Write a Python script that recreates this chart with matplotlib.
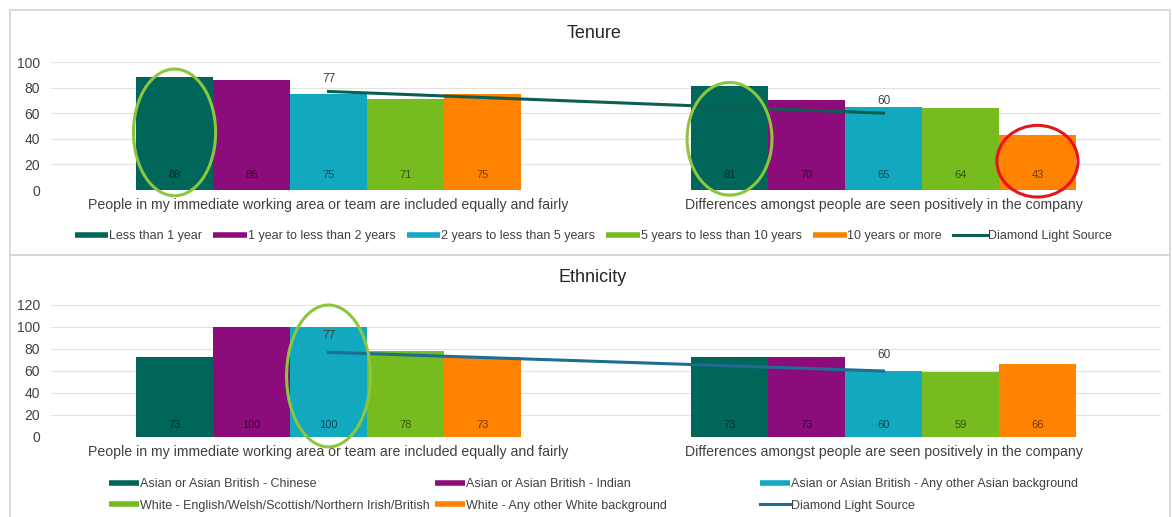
import numpy as np
import matplotlib
matplotlib.use("Agg")
import matplotlib.pyplot as plt
from matplotlib.patches import Ellipse, Rectangle
from matplotlib.lines import Line2D
from matplotlib.colors import to_rgb

plt.rcParams['font.family'] = ['Liberation Sans', 'DejaVu Sans']

categories = ["People in my immediate working area or team are included equally and fairly",
              "Differences amongst people are seen positively in the company"]

tenure_series = ["Less than 1 year", "1 year to less than 2 years", "2 years to less than 5 years",
                 "5 years to less than 10 years", "10 years or more"]
tenure_values = [[88, 81], [86, 70], [75, 65], [71, 64], [75, 43]]
tenure_dls = [77, 60]

eth_series = ["Asian or Asian British - Chinese", "Asian or Asian British - Indian",
              "Asian or Asian British - Any other Asian background",
              "White - English/Welsh/Scottish/Northern Irish/British",
              "White - Any other White background"]
eth_values = [[73, 73], [100, 73], [100, 60], [78, 59], [73, 66]]
eth_dls = [77, 60]

line_label = "Diamond Light Source"

colors = ["#00665a", "#8c0c7c", "#12a8c0", "#77bc1f", "#ff8200"]
line_color_top = "#0d5e50"
line_color_bot = "#1d6e93"

def darker(c, f=0.45):
    r, g, b = to_rgb(c)
    return (r * f, g * f, b * f)

W, H = 1172, 517
fig = plt.figure(figsize=(W / 100, H / 100), dpi=100)

# panel borders
border = "#d4d4d4"
fig.patches.append(Rectangle((10 / W, 1 - 255 / H), 1160 / W, 245 / H, transform=fig.transFigure,
                             fill=False, ec=border, lw=1.2))
fig.patches.append(Rectangle((10 / W, -0.01), 1160 / W, 1 - 255 / H + 0.01, transform=fig.transFigure,
                             fill=False, ec=border, lw=1.2))

bw = 0.1387
x = np.arange(len(categories))

def draw(ax, series, values, dls, lcolor, ymax, ystep, lab_off, dl_off):
    for i, (name, vals) in enumerate(zip(series, values)):
        xs = x + (i - 2) * bw
        ax.bar(xs, vals, bw, color=colors[i], label=name, zorder=2)
        for xx, v in zip(xs, vals):
            ax.annotate(str(v), (xx, 0), xytext=(0, lab_off), textcoords="offset points",
                        ha="center", va="center", fontsize=8, color=darker(colors[i]), zorder=5)
    ax.plot(x, dls, color=lcolor, lw=2.2, label=line_label, zorder=3)
    for xx, v in zip(x, dls):
        ax.annotate(str(v), (xx, v), xytext=(0, dl_off), textcoords="offset points",
                    ha="center", va="center", fontsize=8.5, color="#404040", zorder=5)
    ax.set_xlim(-0.5, 1.5)
    ax.set_ylim(0, ymax)
    ax.set_yticks(np.arange(0, ymax + 1, ystep))
    ax.set_xticks(x)
    ax.set_xticklabels(categories, color="#404040")
    ax.tick_params(axis="both", length=0, colors="#404040")
    ax.tick_params(axis="x", pad=6, labelsize=10.2)
    ax.tick_params(axis="y", pad=8, labelsize=10)
    for s in ax.spines.values():
        s.set_visible(False)
    ax.grid(axis="y", color="#e2e2e2", lw=0.8, zorder=0)
    ax.set_axisbelow(True)

ax1 = fig.add_axes([51 / W, 1 - 190 / H, 1110 / W, 128 / H])
draw(ax1, tenure_series, tenure_values, tenure_dls, line_color_top, 100, 20, 11, 9)
ax2 = fig.add_axes([51 / W, 1 - 437 / H, 1110 / W, 132 / H])
draw(ax2, eth_series, eth_values, eth_dls, line_color_bot, 120, 20, 8.5, 11.5)

green = "#8cc63f"
red = "#e8141c"
ax1.add_patch(Ellipse((0 - 2 * bw, 45), 0.148, 99, fill=False, ec=green, lw=2.2, zorder=6, clip_on=False))
ax1.add_patch(Ellipse((1 - 2 * bw, 40), 0.153, 88, fill=False, ec=green, lw=2.2, zorder=6, clip_on=False))
ax1.add_patch(Ellipse((1 + 2 * bw, 22.5), 0.146, 56, fill=False, ec=red, lw=2.2, zorder=6, clip_on=False))
ax2.add_patch(Ellipse((0, 55.5), 0.151, 129, fill=False, ec=green, lw=2.2, zorder=6, clip_on=False))

fig.text(594 / W, 1 - 33 / H, "Tenure", ha="center", va="center", fontsize=13, color="#262626")
fig.text(593 / W, 1 - 277 / H, "Ethnicity", ha="center", va="center", fontsize=13, color="#262626")

# legends
def handles(series, lcolor):
    hs = [Line2D([0], [0], color=c, lw=4, solid_capstyle="butt") for c in colors]
    hs.append(Line2D([0], [0], color=lcolor, lw=2.2))
    return hs, list(series) + [line_label]

h1, l1 = handles(tenure_series, line_color_top)
fig.legend(h1, l1, loc="center", bbox_to_anchor=(593 / W, 1 - 236 / H), ncol=6, frameon=False,
           fontsize=9, handlelength=2.7, handletextpad=0.05, columnspacing=0.9,
           borderpad=0, borderaxespad=0, labelcolor="#404040")

h2, l2 = handles(eth_series, line_color_bot)
col_x = [109, 435, 760]
cols = [[0, 3], [1, 4], [2, 5]]
for cx, idx in zip(col_x, cols):
    fig.legend([h2[i] for i in idx], [l2[i] for i in idx], loc="center left",
               bbox_to_anchor=(cx / W, 1 - 495 / H), ncol=1, frameon=False,
               fontsize=9, handlelength=2.4, handletextpad=0.1, labelspacing=0.75,
               borderpad=0, borderaxespad=0, labelcolor="#404040")

fig.savefig("out.png", dpi=100, facecolor="white")
